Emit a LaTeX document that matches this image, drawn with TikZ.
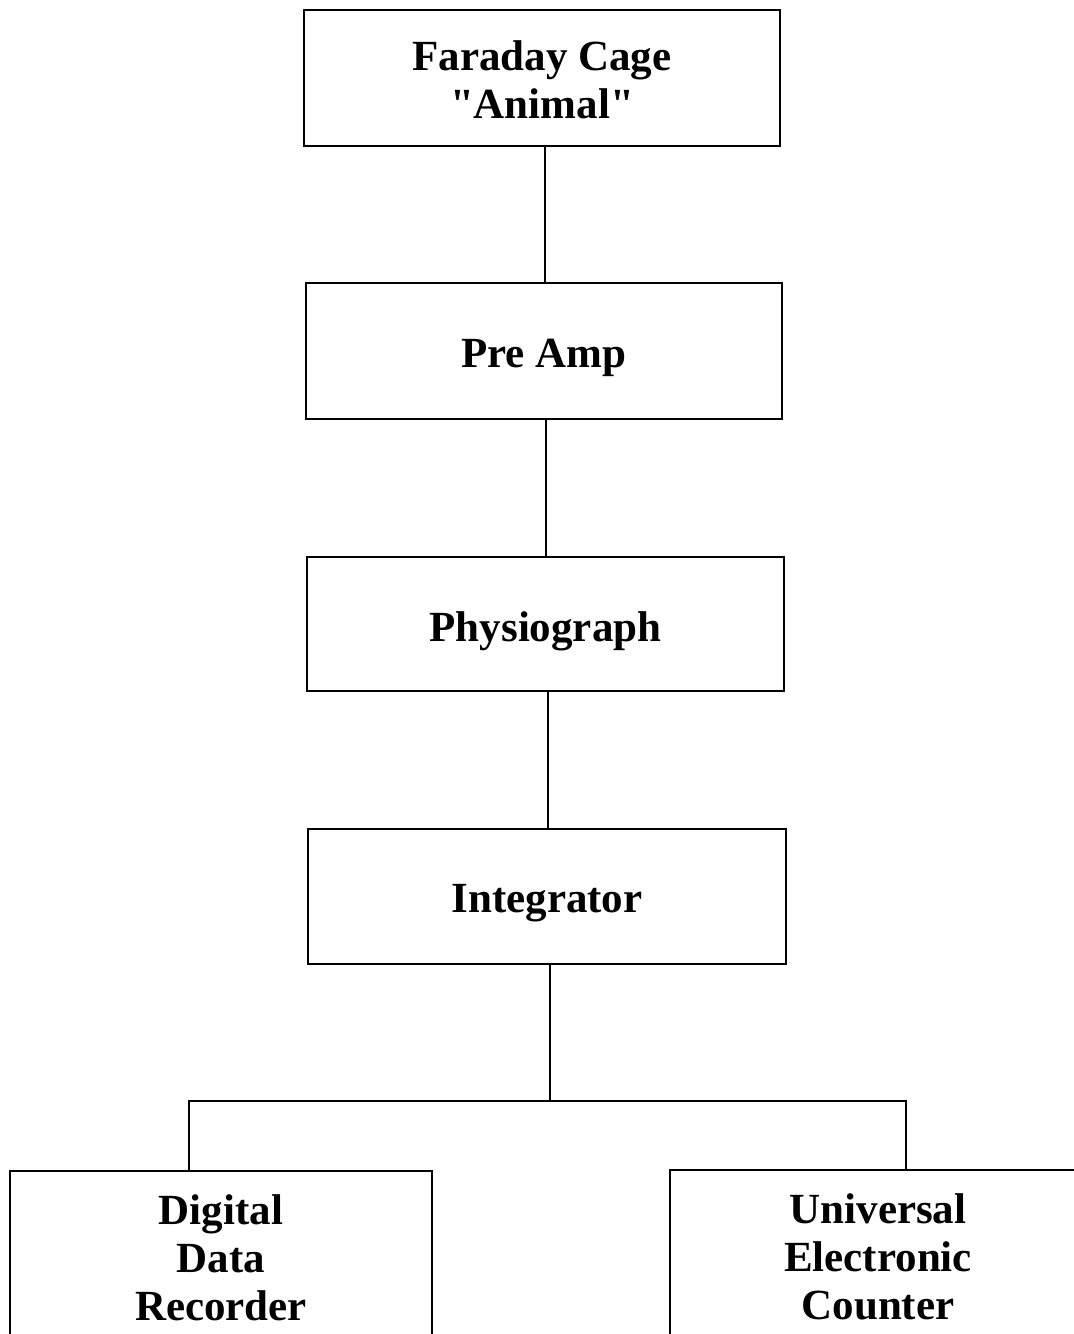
\documentclass[tikz,border=0pt]{standalone}
\usepackage{fontspec}
\setmainfont{Liberation Serif}[Ligatures=TeXOff]
\begin{document}
\begin{tikzpicture}[x=1pt,y=-1pt,
  blk/.style={draw,line width=1.7pt,inner sep=0pt},
  txt/.style={align=center,inner sep=0pt,font=\fontsize{43}{48}\selectfont\bfseries},
  wire/.style={line width=1.5pt}]
\useasboundingbox (0,0) rectangle (1074,1334);
\clip (0,0) rectangle (1074,1334);
\node[blk,minimum width=476pt,minimum height=136pt,
  label={[txt,yshift=-2pt]center:{Faraday Cage\\"Animal"}}] (b1) at (542,78) {};
\node[blk,minimum width=476pt,minimum height=136pt,
  label={[txt,yshift=-7pt]center:{Pre Amp}}] (b2) at (544,351) {};
\node[blk,minimum width=477pt,minimum height=134pt,
  label={[txt,yshift=-7pt]center:{Physiograph}}] (b3) at (545.5,624) {};
\node[blk,minimum width=478pt,minimum height=135pt,
  label={[txt,yshift=-7pt]center:{Integrator}}] (b4) at (547,896.5) {};
\node[blk,minimum width=422pt,minimum height=174pt,
  label={[txt,yshift=0pt]center:{Digital\\Data\\Recorder}}] (dl) at (221,1258) {};
\node[blk,minimum width=416pt,minimum height=176pt,
  label={[txt,yshift=1pt]center:{Universal\\Electronic\\Counter}}] (dr) at (878,1258) {};
\coordinate (j) at (550,1101);
\coordinate (cl) at ([xshift=180pt]dl.north west);
\coordinate (cr) at ([xshift=237pt]dr.north west);
\draw[wire] ([xshift=3pt]b1.south) -- ([xshift=3pt]b1.south |- b2.north);
\draw[wire] ([xshift=2pt]b2.south) -- ([xshift=2pt]b2.south |- b3.north);
\draw[wire] ([xshift=2.5pt]b3.south) -- ([xshift=2.5pt]b3.south |- b4.north);
\draw[wire] ([xshift=3pt]b4.south) -- ([xshift=3pt]b4.south |- j);
\draw[wire] (cl) |- (j) -| (cr);
\end{tikzpicture}
\end{document}
